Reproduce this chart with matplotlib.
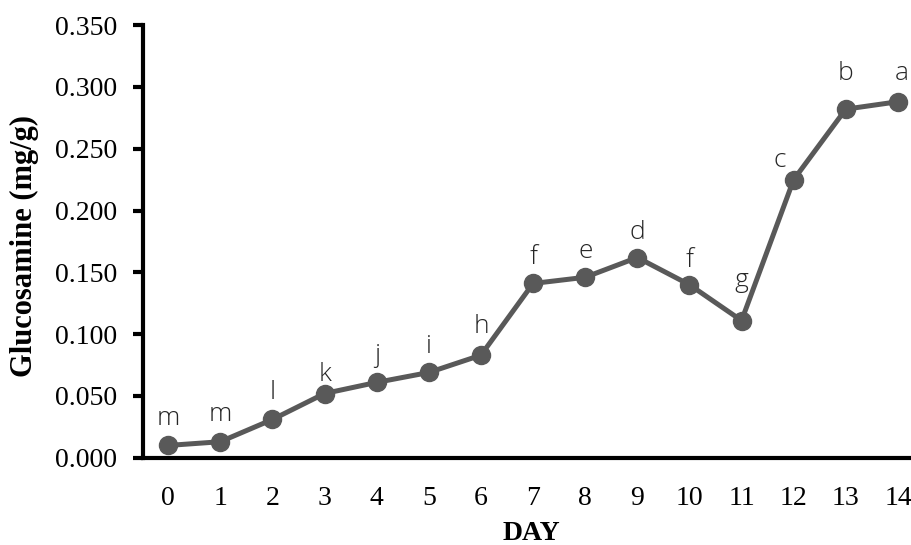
import matplotlib.pyplot as plt
from matplotlib.ticker import FormatStrFormatter

days = list(range(15))
glucosamine = [0.010, 0.013, 0.031, 0.052, 0.061, 0.069, 0.083, 0.141,
               0.146, 0.162, 0.140, 0.111, 0.225, 0.282, 0.288]
letters = ['m', 'm', 'l', 'k', 'j', 'i', 'h', 'f', 'e', 'd', 'f', 'g', 'c', 'b', 'a']
# offsets (points) from each marker to its letter
letter_dx = [0, 0, 0, 0, 0, 0, 0, 0, 0, 0, 0, 0, -10, 0, 3]
letter_dy = [15, 15, 15, 9, 15, 14, 16, 14, 14, 13, 13, 24, 9, 21, 16]

fig = plt.figure(figsize=(9.12, 5.45), dpi=100)
ax = fig.add_axes([0.157, 0.160, 0.843, 0.794])

ax.plot(days, glucosamine, color='#595959', lw=3.6, marker='o', ms=13,
        solid_capstyle='round', zorder=3, clip_on=False)

for x, y, s, dx, dy in zip(days, glucosamine, letters, letter_dx, letter_dy):
    ax.annotate(s, (x, y), xytext=(dx, dy), textcoords='offset points',
                ha='center', va='baseline', fontsize=19, color='#262626',
                family='Open Sans', fontweight='light')

ax.set_xlim(-0.48, 14.27)
ax.set_ylim(0, 0.35)
ax.set_xticks(days)
ax.set_yticks([i * 0.05 for i in range(8)])
ax.yaxis.set_major_formatter(FormatStrFormatter('%.3f'))

for side in ['top', 'right']:
    ax.spines[side].set_visible(False)
for side in ['left', 'bottom']:
    ax.spines[side].set_linewidth(3)

ax.tick_params(axis='y', direction='out', length=7, width=3, pad=12)
ax.tick_params(axis='x', length=0, pad=20)
for lbl in ax.get_xticklabels() + ax.get_yticklabels():
    lbl.set_family('Liberation Serif')
    lbl.set_fontsize(20)

ax.set_ylabel('Glucosamine (mg/g)', family='Liberation Serif', fontsize=22,
              fontweight='bold')
ax.yaxis.set_label_coords(-0.135, 0.49)
ax.set_xlabel('DAY', family='Liberation Serif', fontsize=20,
              fontweight='bold')
ax.xaxis.set_label_coords(0.505, -0.145)

fig.savefig('out.png', dpi=100)
